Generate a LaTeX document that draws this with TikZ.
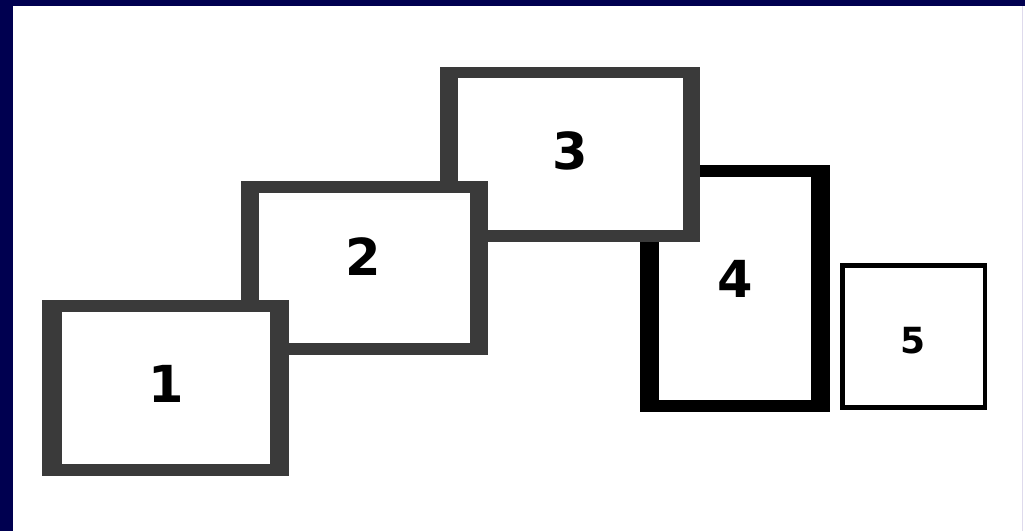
\documentclass[tikz,border=0pt]{standalone}
\usepackage{fontspec}
\newfontfamily\digitfont{DejaVu Sans}
\definecolor{navy}{RGB}{0,0,80}
\definecolor{edgeline}{RGB}{222,218,236}
\definecolor{grainy}{RGB}{58,58,58}
\begin{document}
\begin{tikzpicture}[x=1pt,y=-1pt,
  digit/.style={font=\digitfont\bfseries\fontsize{51}{51}\selectfont,inner sep=0pt,text=black},
  smalldigit/.style={font=\digitfont\bfseries\fontsize{36}{36}\selectfont,inner sep=0pt,text=black}]
% a framed card: outer corner, inner corner, frame colour
\newcommand\card[5]{\fill[#5] #1 rectangle #2; \fill[white] #3 rectangle #4;}
\useasboundingbox (0,0) rectangle (1025,531);
\fill[white] (0,0) rectangle (1025,531);
% slide frame
\fill[navy] (0,0) rectangle (1025,6);
\fill[navy] (0,0) rectangle (13,531);
\fill[edgeline] (1021.5,6) rectangle (1022.5,531);
% cards, back to front
\card{(640,165)}{(830,412)}{(659,177)}{(811,400)}{black}
\card{(440,67)}{(700,242)}{(458,78)}{(683,230)}{grainy}
\card{(241,181)}{(488,355)}{(259,193)}{(470,343)}{grainy}
\card{(42,300)}{(289,476)}{(62,312)}{(270,464)}{grainy}
\card{(840,263)}{(987,410)}{(845,268)}{(983,405)}{black}
% card numbers
\node[digit] (n1) at (166,384) {1};
\node[digit] (n2) at (363,257) {2};
\node[digit] (n3) at (570,151) {3};
\node[digit] (n4) at (735,279) {4};
\node[smalldigit] (n5) at (913,341) {5};
\end{tikzpicture}
\end{document}
